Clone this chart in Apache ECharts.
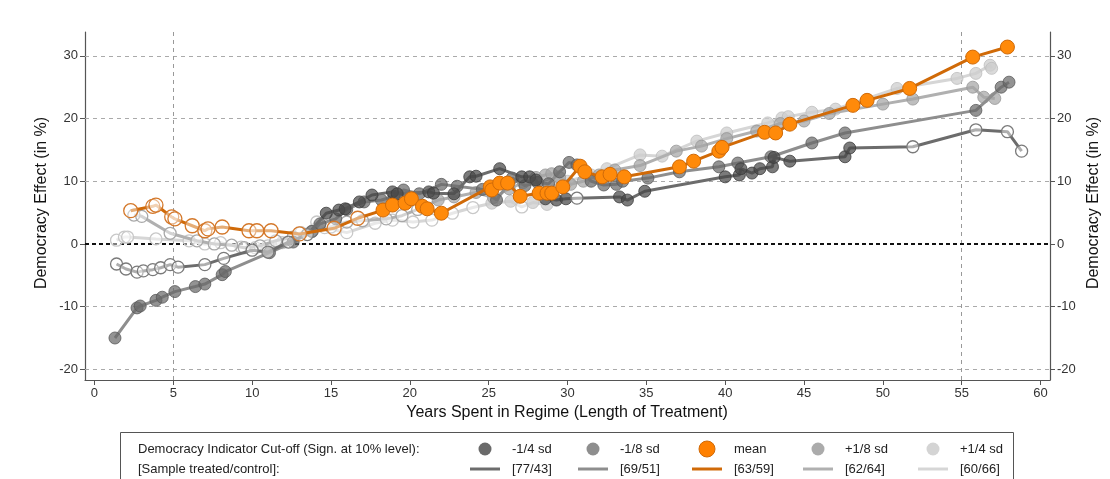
<!DOCTYPE html>
<html><head><meta charset="utf-8">
<script src="https://cdn.jsdelivr.net/npm/echarts@6/dist/echarts.min.js"></script>
<style>html,body{margin:0;padding:0;background:#fff}#c{width:1110px;height:479px}</style>
</head><body><div id="c"></div>
<script>
// ---- data: [years, effect %, significant(1)/not(0)] ----
const m14 = [[1.4,-3.2,0],[2.0,-4.0,0],[2.7,-4.5,0],[3.1,-4.3,0],[3.7,-4.1,0],[4.2,-3.8,0],[4.8,-3.3,0],[5.3,-3.7,0],[7.0,-3.3,0],[8.2,-2.3,0],[10.0,-1.0,0],[11.0,-1.3,0],[12.3,0.3,0],[13.5,1.5,0],[14.7,4.9,1],[15.5,5.4,1],[15.9,5.6,1],[16.8,6.7,1],[17.6,7.8,1],[18.9,8.3,1],[19.2,8.0,1],[21.2,8.3,1],[21.5,8.1,1],[22.8,8.0,1],[23.8,10.7,1],[24.2,10.8,1],[25.7,12.0,1],[27.1,10.7,1],[27.6,10.7,1],[28.0,10.2,1],[28.6,7.2,1],[29.3,7.0,1],[29.9,7.2,1],[30.6,7.3,0],[33.3,7.5,1],[33.8,7.0,1],[34.9,8.4,1],[40.0,10.7,1],[40.9,11.0,1],[41.0,12.0,1],[41.7,11.3,1],[42.2,12.0,1],[43.0,12.3,1],[43.1,13.8,1],[44.1,13.2,1],[47.6,13.9,1],[47.9,15.3,1],[51.9,15.5,0],[55.9,18.2,0],[57.9,17.9,0],[58.8,14.8,0]];
const m18 = [[1.3,-15.0,1],[2.7,-10.2,1],[2.9,-9.9,1],[3.9,-9.0,1],[4.3,-8.5,1],[5.1,-7.6,1],[6.4,-6.8,1],[7.0,-6.4,1],[8.1,-4.9,1],[8.3,-4.4,1],[11.1,-1.4,1],[12.6,0.3,1],[13.8,2.0,1],[14.3,3.2,1],[15.3,4.0,1],[16.0,5.5,1],[17.1,6.7,1],[18.2,7.0,1],[19.0,7.6,1],[19.6,8.6,1],[20.6,8.0,1],[22.0,9.5,1],[23.0,9.2,1],[24.6,8.7,1],[25.5,7.0,1],[26.5,10.5,1],[27.3,9.3,1],[28.1,9.8,1],[28.8,9.6,1],[29.5,11.5,1],[30.1,13.0,1],[30.6,12.6,1],[31.5,10.0,1],[32.3,9.4,1],[33.1,9.5,1],[33.5,10.0,1],[35.1,10.5,1],[37.1,11.5,1],[39.6,12.3,1],[40.8,12.9,1],[42.9,13.9,1],[45.5,16.1,1],[47.6,17.7,1],[55.9,21.3,1],[57.5,25.0,1],[58.0,25.8,1]];
const mean = [[2.3,5.3,0],[3.7,6.0,0],[3.9,6.2,0],[4.9,4.3,0],[5.1,4.0,0],[6.2,2.9,0],[7.0,2.1,0],[7.2,2.4,0],[8.1,2.7,0],[9.8,2.1,0],[10.3,2.1,0],[11.2,2.1,0],[13.0,1.6,0],[15.2,2.5,0],[16.7,4.1,0],[18.3,5.4,1],[18.9,6.2,1],[19.7,6.5,1],[20.1,7.2,1],[20.8,6.0,1],[21.1,5.6,1],[22.0,4.9,1],[25.1,9.1,1],[25.2,8.6,1],[25.7,9.7,1],[26.2,9.7,1],[27.0,7.6,1],[28.2,8.1,1],[28.7,8.1,1],[29.0,8.1,1],[29.7,9.1,1],[30.8,12.4,1],[31.1,11.5,1],[32.2,10.7,1],[32.7,11.1,1],[33.6,10.7,1],[37.1,12.3,1],[38.0,13.2,1],[39.6,14.8,1],[39.8,15.4,1],[42.5,17.8,1],[43.2,17.7,1],[44.1,19.1,1],[48.1,22.1,1],[49.0,22.9,1],[51.7,24.8,1],[55.7,29.8,1],[57.9,31.4,1]];
const p18 = [[2.5,4.6,0],[3.0,4.4,0],[4.8,1.7,0],[6.5,0.5,0],[7.6,0.0,0],[8.7,-0.2,0],[9.5,-0.6,0],[10.5,-0.3,0],[11.5,0.5,0],[12.6,1.1,0],[13.8,2.0,0],[15.0,2.7,0],[16.0,3.5,0],[17.0,3.7,0],[18.5,4.0,0],[19.5,4.5,0],[20.5,5.5,0],[21.8,7.0,1],[22.8,7.5,1],[24.2,8.2,1],[25.3,7.4,1],[26.3,8.8,1],[27.2,9.8,1],[28.0,10.6,1],[28.6,11.0,1],[29.0,11.2,1],[29.5,10.6,1],[30.2,9.5,1],[31.0,10.0,1],[32.0,11.0,1],[33.0,11.8,1],[34.6,12.5,1],[36.9,14.8,1],[38.5,15.6,1],[40.1,16.8,1],[42.0,18.0,1],[43.5,19.2,1],[45.0,19.6,1],[46.6,20.8,1],[50.0,22.3,1],[51.9,23.1,1],[55.7,25.0,1],[56.4,23.4,1],[57.1,23.2,1]];
const p14 = [[1.4,0.6,0],[1.9,1.1,0],[2.1,1.1,0],[3.9,0.8,0],[6.0,0.5,0],[7.0,0.0,0],[8.0,0.2,0],[9.3,-0.5,0],[10.2,-0.6,0],[11.0,-0.3,0],[11.9,0.2,0],[13.1,1.8,0],[14.1,3.5,0],[14.6,2.6,0],[16.0,1.8,0],[17.8,3.3,0],[18.9,3.8,0],[20.2,3.5,0],[21.4,3.8,0],[22.7,4.9,0],[24.0,5.8,0],[25.2,6.5,1],[26.4,6.8,1],[27.1,5.9,0],[27.8,6.6,1],[28.7,6.3,1],[29.4,10.7,1],[30.0,10.0,1],[31.5,11.0,1],[32.5,12.0,1],[34.6,14.2,1],[36.0,14.0,1],[38.2,16.4,1],[40.1,17.7,1],[42.7,19.3,1],[43.6,20.1,1],[44.0,20.3,1],[45.5,21.0,1],[47.0,21.5,1],[50.9,24.8,1],[54.7,26.4,1],[55.9,27.2,1],[56.8,28.5,1],[56.9,28.0,1]];

const seriesNames = ['-1/4 sd','-1/8 sd','mean','+1/8 sd','+1/4 sd'];
const sampleLabels = ['[77/43]','[69/51]','[63/59]','[62/64]','[60/66]'];
const xTicks = [0,5,10,15,20,25,30,35,40,45,50,55,60];
const yTicks = [-20,-10,0,10,20,30];
const refYears = [5,55];

const styles = [
  {line:'#6c6c6c', fill:'rgba(72,72,72,0.72)', border:'rgba(60,60,60,0.8)', hollow:'#7a7a7a', size:12, legFill:'#6a6a6a'},
  {line:'#8e8e8e', fill:'rgba(105,105,105,0.72)', border:'rgba(90,90,90,0.8)', hollow:'#8a8a8a', size:12, legFill:'#8e8e8e'},
  {line:'#d06a08', fill:'#ff8a0a', border:'#d06a08', hollow:'#d4782a', size:14, legFill:'#ff8000'},
  {line:'#b0b0b0', fill:'rgba(165,165,165,0.72)', border:'rgba(150,150,150,0.8)', hollow:'#a8a8a8', size:12, legFill:'#ababab'},
  {line:'#d6d6d6', fill:'rgba(205,205,205,0.75)', border:'rgba(190,190,190,0.8)', hollow:'#c8c8c8', size:12, legFill:'#d4d4d4'}
];
const allData = [m14, m18, mean, p18, p14];

function toData(pts, s){
  return pts.map(p => ({value:[p[0],p[1]], itemStyle: p[2] ?
    {color:s.fill, borderColor:s.border, borderWidth:1, opacity:1} :
    {color:'rgba(255,255,255,0.45)', borderColor:s.hollow, borderWidth:1.3, opacity:1}}));
}

const drawOrder = [4,3,1,0,2];
const series = drawOrder.map((i,k) => ({
  type:'line', name:seriesNames[i], data:toData(allData[i], styles[i]),
  symbol:'circle', symbolSize:styles[i].size, showSymbol:true, showAllSymbol:true,
  lineStyle:{color:styles[i].line, width:3}, z:10+k, emphasis:{disabled:true}, silent:true
}));

// reference lines
series.push({type:'line', data:[], silent:true, z:5,
  markLine:{symbol:'none', silent:true, label:{show:false}, animation:false,
    data: yTicks.filter(v=>v!==0).map(v=>({yAxis:v, lineStyle:{color:'#aaaaaa', type:[4,4], width:1}}))
      .concat(refYears.map(v=>({xAxis:v, lineStyle:{color:'#999999', type:[4,4], width:1}})))
      .concat([{yAxis:0, lineStyle:{color:'#111', type:[4,3], width:2}}])
  }});

const legY1 = 449, legY2 = 469;
const legCx = [485,593,707,818,933];
const graphics = [
  {type:'rect', shape:{x:120.5, y:432.5, width:893, height:60}, style:{fill:'#fff', stroke:'#555', lineWidth:1}},
  {type:'text', x:138, y:legY1, style:{text:'Democracy Indicator Cut-off (Sign. at 10% level):', font:'13px "Liberation Sans", Arial, sans-serif', fill:'#222', textVerticalAlign:'middle'}},
  {type:'text', x:138, y:legY2, style:{text:'[Sample treated/control]:', font:'13px "Liberation Sans", Arial, sans-serif', fill:'#222', textVerticalAlign:'middle'}},
  {type:'text', x:42, y:203, rotation:Math.PI/2, style:{text:'Democracy Effect (in %)', font:'16px "Liberation Sans", Arial, sans-serif', fill:'#111', textAlign:'center', textVerticalAlign:'middle'}},
  {type:'text', x:1094, y:203, rotation:Math.PI/2, style:{text:'Democracy Effect (in %)', font:'16px "Liberation Sans", Arial, sans-serif', fill:'#111', textAlign:'center', textVerticalAlign:'middle'}},
  {type:'text', x:567, y:413, style:{text:'Years Spent in Regime (Length of Treatment)', font:'16px "Liberation Sans", Arial, sans-serif', fill:'#111', textAlign:'center', textVerticalAlign:'middle'}}
];
seriesNames.forEach((n,i)=>{
  const cx = legCx[i];
  graphics.push({type:'circle', shape:{cx:cx, cy:legY1, r:i===2?8:6.5}, style:{fill:styles[i].legFill, stroke: i===2?'#d06a08':null}});
  graphics.push({type:'text', x:cx+27, y:legY1, style:{text:n, font:'13px "Liberation Sans", Arial, sans-serif', fill:'#222', textVerticalAlign:'middle'}});
  graphics.push({type:'line', shape:{x1:cx-15, y1:legY2, x2:cx+15, y2:legY2}, style:{stroke:styles[i].line, lineWidth:3}});
  graphics.push({type:'text', x:cx+27, y:legY2, style:{text:sampleLabels[i], font:'13px "Liberation Sans", Arial, sans-serif', fill:'#222', textVerticalAlign:'middle'}});
});

const yAxisBase = {type:'value', min:-21.7, max:33.8,
  axisLine:{show:true, onZero:false, lineStyle:{color:'#555', width:1.2}},
  axisTick:{show:true, length:5, lineStyle:{color:'#555'}, customValues:yTicks},
  axisLabel:{customValues:yTicks, color:'#333', fontSize:13, fontFamily:'"Liberation Sans", Arial, sans-serif', margin:7},
  splitLine:{show:false}};

const chart = echarts.init(document.getElementById('c'), null, {renderer:'canvas'});
chart.setOption({
  animation:false,
  backgroundColor:'#fff',
  grid:{left:85, right:60, top:32, bottom:99, containLabel:false},
  xAxis:{type:'value', min:-0.6, max:60.6,
    axisLine:{show:true, onZero:false, lineStyle:{color:'#555', width:1.2}},
    axisTick:{show:true, length:5, lineStyle:{color:'#555'}, customValues:xTicks},
    axisLabel:{customValues:xTicks, color:'#333', fontSize:13, fontFamily:'"Liberation Sans", Arial, sans-serif', margin:7},
    splitLine:{show:false}},
  yAxis:[Object.assign({}, yAxisBase, {position:'left'}), Object.assign({}, yAxisBase, {position:'right'})],
  series: series,
  graphic: graphics
});
</script></body></html>
